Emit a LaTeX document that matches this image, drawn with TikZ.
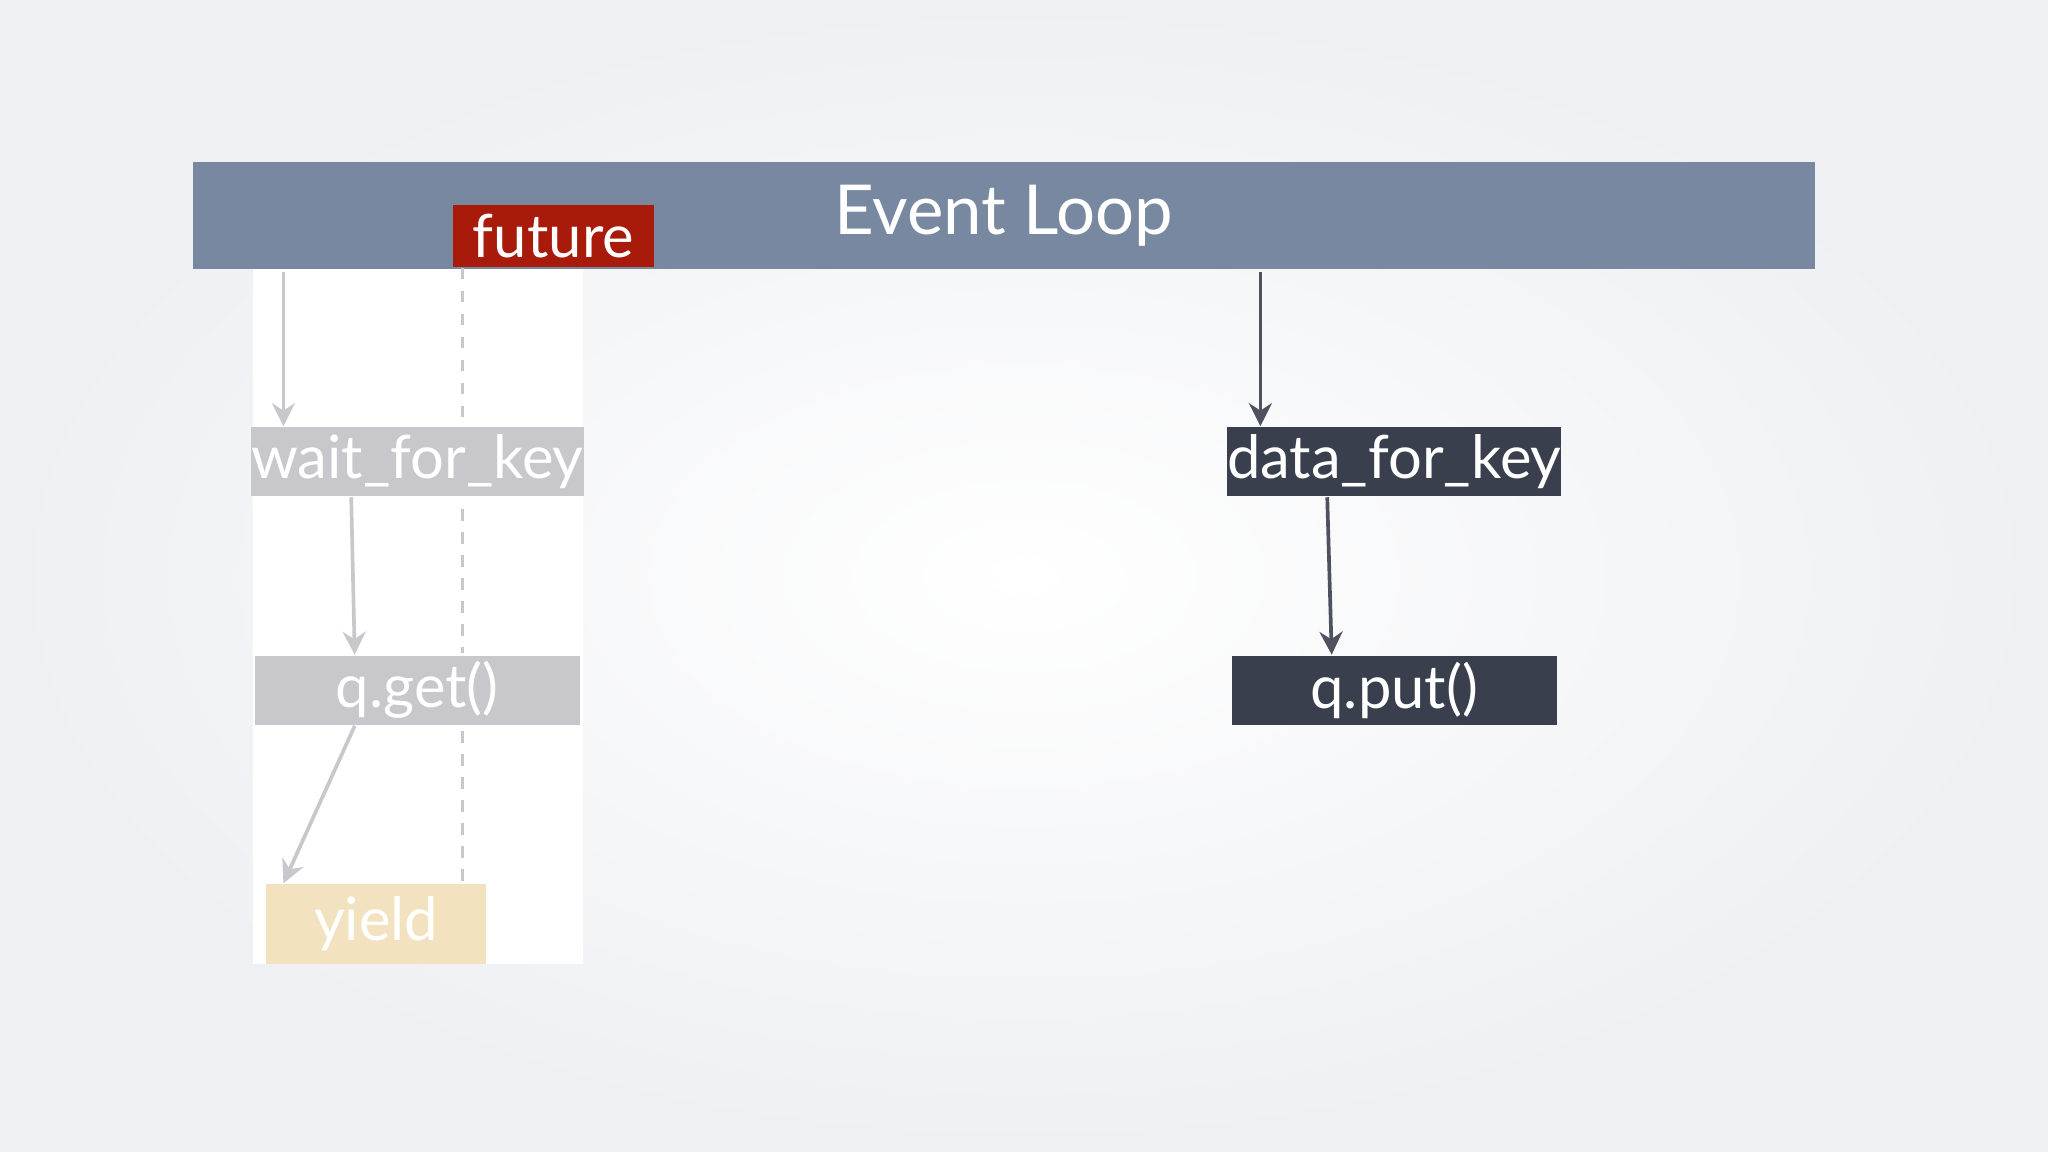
\documentclass[tikz,border=0pt]{standalone}
\usepackage{fontspec}
\setmainfont{Lato}
\usetikzlibrary{positioning,arrows.meta}
\definecolor{loopblue}{HTML}{7788A0}
\definecolor{futred}{HTML}{A81A0A}
\definecolor{paleg}{HTML}{C8C8CC}
\definecolor{darkbox}{HTML}{3A3F4D}
\definecolor{yieldc}{HTML}{F3E2BF}
\definecolor{bgc}{HTML}{EEF0F3}
\tikzset{
  box/.style={minimum width=2.49cm, minimum height=0.53cm, inner sep=0pt,
    text=white, font=\fontsize{13}{15}\selectfont},
  oldarrow/.style={draw=paleg, line width=0.8pt, -{Stealth[length=5pt,width=5pt]}},
  newarrow/.style={draw=darkbox!90, line width=0.8pt, -{Stealth[length=5pt,width=5pt]}},
  waitline/.style={draw=paleg, line width=0.8pt, dash pattern=on 2.5pt off 2.5pt}
}
\begin{document}
\begin{tikzpicture}[x=0.01cm, y=-0.01cm]
  % background
  \shade[inner color=white, outer color=bgc] (0,0) rectangle (1568,882);
  \useasboundingbox (0,0) rectangle (1568,882);
  % panel of the paused coroutine
  \fill[white] (194,206) rectangle (446,738);
  % event loop
  \node[box, fill=loopblue, minimum width=12.41cm, minimum height=0.82cm,
    font=\fontsize{15}{17}\selectfont] (loop) at (768.5,165) {Event Loop};
  \node[box, fill=futred, minimum width=1.54cm, minimum height=0.47cm,
    anchor=south west] (future) at (346,205) {future};
  % left column
  \node[box, fill=paleg] (wait) at (319.5,353.5) {wait\_for\_key};
  \node[box, fill=paleg] (get) at (319.5,528.5) {q.get()};
  \node[box, fill=yieldc, minimum width=1.68cm, minimum height=0.61cm] (yield) at (288,707.5) {yield};
  % right column
  \node[box, fill=darkbox] (data) at (1067.5,353.5) {data\_for\_key};
  \node[box, fill=darkbox] (put) at (1067.5,528.5) {q.put()};
  % connectors
  \coordinate (lA) at (217,208);
  \coordinate (lB) at (965,208);
  \draw[oldarrow] (lA) -- (lA |- wait.north);
  \draw[oldarrow] ([xshift=22]wait.south west) -- ([xshift=22]get.north west);
  \draw[oldarrow] ([xshift=22]get.south west) -- (yield.north -| lA);
  \draw[waitline] (future.south -| 354,0) -- (354,325);
  \draw[waitline] (354,390) -- (354,500);
  \draw[waitline] (354,560) -- (yield.north -| 354,0);
  \draw[newarrow] (lB) -- (lB |- data.north);
  \draw[newarrow] ([xshift=22]data.south west) -- ([xshift=22]put.north west);
\end{tikzpicture}
\end{document}
